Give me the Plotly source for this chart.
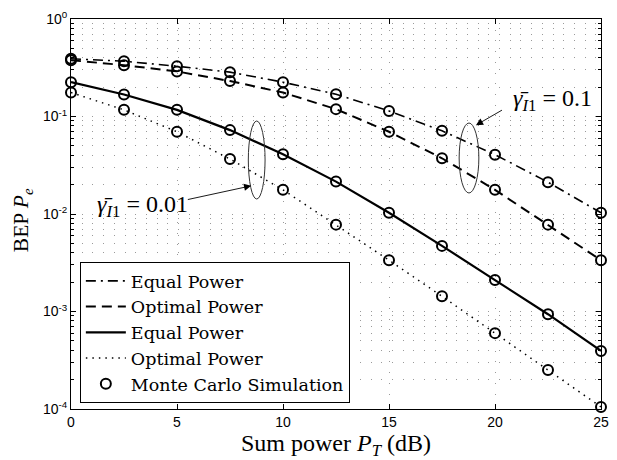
import plotly.graph_objects as go

# ---------------- data ----------------
sum_power_db = [0, 2.5, 5, 7.5, 10, 12.5, 15, 17.5, 20, 22.5, 25]

# gamma_I1 = 0.1
equal_g01 = [0.391, 0.369, 0.328, 0.285, 0.225, 0.169, 0.114, 0.0713, 0.0406, 0.0212, 0.0103]
optimal_g01 = [0.378, 0.336, 0.290, 0.231, 0.176, 0.119, 0.0697, 0.0373, 0.0177, 0.00778, 0.00336]
# gamma_I1 = 0.01
equal_g001 = [0.225, 0.168, 0.117, 0.0725, 0.041, 0.0215, 0.0103, 0.00471, 0.0021, 0.000938, 0.000394]
optimal_g001 = [0.176, 0.117, 0.0697, 0.0366, 0.0177, 0.00778, 0.00336, 0.00143, 0.0006, 0.000251, 0.000105]

# Monte Carlo simulation points (same grid)
mc_equal_g01 = [0.391, 0.369, 0.328, 0.285, 0.225, 0.169, 0.114, 0.0713, 0.0406, 0.0212, 0.0103]
mc_optimal_g01 = [0.378, 0.336, 0.290, 0.231, 0.176, 0.119, 0.0697, 0.0373, 0.0177, 0.00778, 0.00336]
mc_equal_g001 = [0.225, 0.168, 0.117, 0.0725, 0.041, 0.0215, 0.0103, 0.00471, 0.0021, 0.000938, 0.000394]
mc_optimal_g001 = [0.176, 0.117, 0.0697, 0.0366, 0.0177, 0.00778, 0.00336, 0.00143, 0.0006, 0.000251, 0.000105]

x_tickvals = [0, 5, 10, 15, 20, 25]
y_tickvals = [1e-4, 1e-3, 1e-2, 1e-1, 1]
y_ticktext = ["10<sup>-4</sup>", "10<sup>-3</sup>", "10<sup>-2</sup>", "10<sup>-1</sup>", "10<sup>0</sup>"]
legend_names = ["Equal Power", "Optimal Power", "Equal Power", "Optimal Power", "Monte Carlo Simulation"]

# ---------------- figure ----------------
SERIF = "Liberation Serif, Times New Roman, serif"
WIDE_SERIF = "DejaVu Serif, serif"
SANS = "Liberation Sans, Arial, sans-serif"

fig = go.Figure()

line_specs = [
    (equal_g01, dict(color="black", width=1.6, dash="10px,5px,2px,5px")),
    (optimal_g01, dict(color="black", width=2, dash="10px,6px")),
    (equal_g001, dict(color="black", width=2.2, dash="solid")),
    (optimal_g001, dict(color="black", width=1.5, dash="1.5px,5px")),
]
for (vals, ln), name in zip(line_specs, legend_names[:4]):
    fig.add_trace(go.Scatter(x=sum_power_db, y=vals, mode="lines", line=ln,
                             name=name, showlegend=True))

for i, vals in enumerate([mc_equal_g01, mc_optimal_g01, mc_equal_g001, mc_optimal_g001]):
    fig.add_trace(go.Scatter(
        x=sum_power_db, y=vals, mode="markers",
        marker=dict(symbol="circle-open", size=10, color="black", line=dict(width=2, color="black")),
        name=legend_names[4], showlegend=(i == 0), legendgroup="mc", cliponaxis=False))

# minor tick positions for the log axis (2..9 x 10^k)
minor_vals = [m * 10.0 ** k for k in range(-4, 0) for m in range(2, 10)]

grid_dash = "1px,9.7px"
grid_col = "#9a9a9a"

fig.update_layout(
    width=617, height=460,
    margin=dict(l=71, r=8, t=19, b=51),
    paper_bgcolor="white", plot_bgcolor="white",
    font=dict(family=SERIF, color="black"),
    showlegend=True,
    legend=dict(
        x=0.0167, y=0.377, xanchor="left", yanchor="top",
        bgcolor="white", bordercolor="black", borderwidth=1,
        font=dict(family=WIDE_SERIF, size=17.5, color="black"),
        tracegroupgap=0, itemwidth=40,
    ),
    xaxis=dict(
        range=[0, 25], tickmode="array", tickvals=x_tickvals,
        ticks="inside", ticklen=5, tickcolor="black",
        showline=True, linecolor="black", linewidth=1, mirror="ticks",
        showgrid=True, gridcolor=grid_col, griddash=grid_dash, gridwidth=1,
        zeroline=False,
        tickfont=dict(family=SANS, size=14, color="black"),
    ),
    yaxis=dict(
        type="log", range=[-4, 0], tickmode="array", tickvals=y_tickvals, ticktext=y_ticktext,
        ticks="inside", ticklen=5, tickcolor="black",
        showline=True, linecolor="black", linewidth=1, mirror="ticks",
        showgrid=True, gridcolor=grid_col, griddash=grid_dash, gridwidth=1,
        zeroline=False,
        tickfont=dict(family=SANS, size=14, color="black"),
        minor=dict(tickmode="array", tickvals=minor_vals, ticks="inside", ticklen=3,
                   tickcolor="black", showgrid=True, gridcolor=grid_col,
                   griddash=grid_dash, gridwidth=1),
    ),
)

# axis titles as annotations (precise placement)
fig.add_annotation(x=0.5, y=-0.092, xref="paper", yref="paper", xanchor="center", yanchor="middle",
                   text="Sum power <i>P</i><sub><i>T</i></sub> (dB)", showarrow=False,
                   font=dict(family=SERIF, size=24, color="black"))
fig.add_annotation(x=-0.09, y=0.485, xref="paper", yref="paper", xanchor="center", yanchor="middle",
                   text="BEP <i>P</i><sub><i>e</i></sub>", showarrow=False, textangle=-90,
                   font=dict(family=SERIF, size=21.5, color="black"))

# ellipses grouping curves (paper coordinates)
def px2paper(px, py):
    return (px - 71) / 538.0, (409 - py) / 390.0

for (cx, cy, w, h) in [(259.5, 160, 17, 78), (475, 158, 20, 70)]:
    x0, y0 = px2paper(cx - w / 2, cy + h / 2)
    x1, y1 = px2paper(cx + w / 2, cy - h / 2)
    fig.add_shape(type="circle", xref="paper", yref="paper", x0=x0, x1=x1, y0=y0, y1=y1,
                  line=dict(color="#333333", width=1), layer="above")

lab = "<i>γ̄</i><sub><i>I</i>1</sub> = "
fig.add_annotation(x=3.35, y=-1.92, xref="x", yref="y", text=lab + "0.01", showarrow=False,
                   font=dict(family=SERIF, size=24, color="black"))
fig.add_annotation(x=22.72, y=-0.83, xref="x", yref="y", text=lab + "0.1", showarrow=False,
                   font=dict(family=SERIF, size=24, color="black"))

# arrows
fig.add_annotation(x=8.50, y=-1.711, ax=5.44, ay=-1.855, xref="x", yref="y", axref="x", ayref="y",
                   text="", showarrow=True, arrowhead=2, arrowsize=1.6, arrowwidth=0.9,
                   arrowcolor="black", standoff=0, startstandoff=0)
fig.add_annotation(x=19.1, y=-1.089, ax=20.4, ay=-0.926, xref="x", yref="y", axref="x", ayref="y",
                   text="", showarrow=True, arrowhead=2, arrowsize=1.6, arrowwidth=0.9,
                   arrowcolor="black", standoff=0, startstandoff=0)

fig.write_html("out.html")
